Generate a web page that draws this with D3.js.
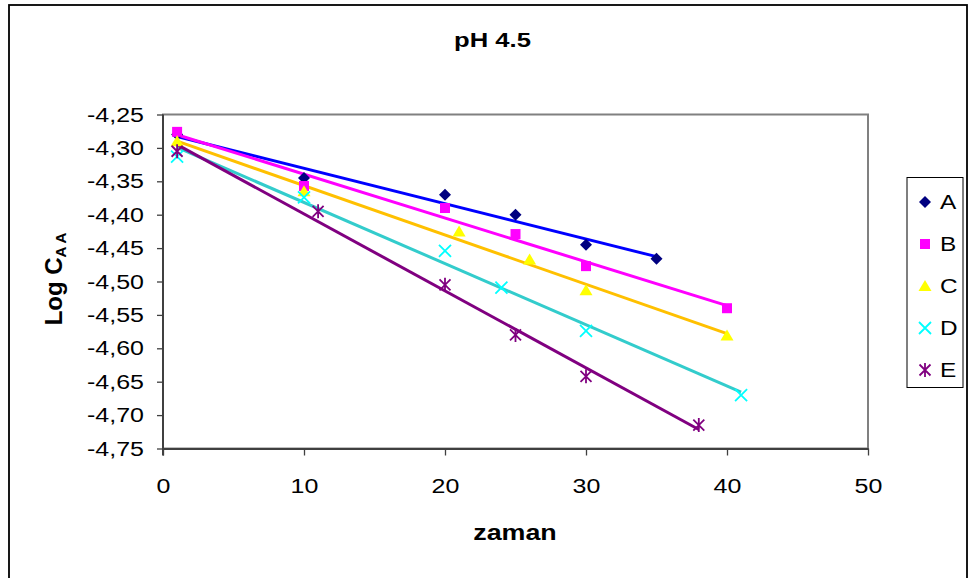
<html>
<head>
<meta charset="UTF-8">
<script src="https://d3js.org/d3.v7.min.js"></script>
<style>
  body { margin: 0; background: #fff; }
  text { font-family: "Liberation Sans", Arial, sans-serif; }
</style>
</head>
<body>
<svg id="chart" width="970" height="578"></svg>
<script>
// values
const seriesNames = ["A", "B", "C", "D", "E"];
const xA = [1, 10, 20, 25, 30, 35];
const yA = [-4.28, -4.345, -4.37, -4.40, -4.445, -4.466];
const xB = [1, 10, 20, 25, 30, 40];
const yB = [-4.276, -4.357, -4.39, -4.429, -4.477, -4.54];
const xC = [1, 10, 21, 26, 30, 40];
const yC = [-4.29, -4.365, -4.425, -4.467, -4.513, -4.581];
const xD = [1, 10, 20, 24, 30, 41];
const yD = [-4.313, -4.374, -4.454, -4.509, -4.574, -4.67];
const xE = [1, 11, 20, 25, 30, 38];
const yE = [-4.305, -4.395, -4.505, -4.58, -4.642, -4.715];
const xTicks = [0, 10, 20, 30, 40, 50];
const yTicks = [-4.25, -4.30, -4.35, -4.40, -4.45, -4.50, -4.55, -4.60, -4.65, -4.70, -4.75];

const xs = [xA, xB, xC, xD, xE];
const ys = [yA, yB, yC, yD, yE];
const lineColors = ["#0000ff", "#ff00ff", "#ffc000", "#33cccc", "#800080"];
const markColors = ["#000080", "#ff00ff", "#ffff00", "#00ffff", "#800080"];
const stretch = 1.22;   // text in the picture is a bit wide

const svg = d3.select("#chart");
const pLeft = 163, pTop = 114.5, pRight = 868, pBottom = 448.5;

const x = d3.scaleLinear().domain([0, 50]).range([pLeft, pRight]);
const y = d3.scaleLinear().domain([-4.75, -4.25]).range([pBottom, pTop]);

// outer frame
svg.append("rect").attr("x", 9).attr("y", 5).attr("width", 958).attr("height", 620)
  .attr("fill", "none").attr("stroke", "#000").attr("stroke-width", 1.8);

// plot area border (gray top/right)
svg.append("rect").attr("x", pLeft).attr("y", pTop).attr("width", pRight - pLeft).attr("height", pBottom - pTop)
  .attr("fill", "#fff").attr("stroke", "#808080").attr("stroke-width", 2);

// axes
const fmt = d => d3.format(".2f")(d).replace(".", ",").replace("\u2212", "-");
const gy = svg.append("g").attr("transform", "translate(" + pLeft + ",0)")
  .call(d3.axisLeft(y).tickValues(yTicks).tickSize(6).tickSizeOuter(0).tickFormat(fmt));
const gx = svg.append("g").attr("transform", "translate(0," + pBottom + ")")
  .call(d3.axisBottom(x).tickValues(xTicks).tickSize(7).tickSizeOuter(0));

[gy, gx].forEach(g => {
  g.select(".domain").attr("stroke", "#404040").attr("stroke-width", 2);
  g.selectAll(".tick line").attr("stroke", "#404040").attr("stroke-width", 1.3);
  g.selectAll("text").attr("font-size", 20.5).attr("fill", "#000")
    .attr("font-family", "Liberation Sans, Arial, sans-serif")
    .attr("transform", "scale(" + stretch + ",1)");
});
gy.selectAll("text").attr("x", -19 / stretch);
gy.select(".domain").attr("d", "M0," + pTop + "V" + (pBottom + 7));
gx.selectAll("text").attr("dy", null).attr("y", 45);

// stretched text helper
function label(parent, px, py, str, size, weight, anchor) {
  return parent.append("g").attr("transform", "translate(" + px + "," + py + ") scale(" + stretch + ",1)")
    .append("text").attr("font-size", size).attr("font-weight", weight)
    .attr("text-anchor", anchor).text(str);
}

label(svg, 492.5, 47, "pH 4.5", 21, "bold", "middle");
label(svg, 515, 540, "zaman", 22, "bold", "middle");

// y axis title with subscript
const yt = svg.append("text").attr("transform", "translate(62,279) rotate(-90)")
  .attr("text-anchor", "middle").attr("font-size", 24).attr("font-weight", "bold");
yt.append("tspan").text("Log C");
yt.append("tspan").attr("font-size", 15).attr("dy", 4).text("A A");

// markers
function marker(g, i) {
  const c = markColors[i];
  if (i === 0) {
    g.append("path").attr("d", "M0,-6L6,0L0,6L-6,0Z").attr("fill", c);
  } else if (i === 1) {
    g.append("rect").attr("x", -5).attr("y", -5).attr("width", 10).attr("height", 10).attr("fill", c);
  } else if (i === 2) {
    g.append("path").attr("d", "M0,-6L6.5,5L-6.5,5Z").attr("fill", c);
  } else if (i === 3) {
    g.append("path").attr("d", "M-6,-6L6,6M6,-6L-6,6").attr("stroke", c).attr("stroke-width", 1.8).attr("fill", "none");
  } else {
    g.append("path").attr("d", "M-5.5,-5.5L5.5,5.5M5.5,-5.5L-5.5,5.5M0,-7V7").attr("stroke", c).attr("stroke-width", 1.8).attr("fill", "none");
  }
}

// least-squares trend line for each series
function fit(xv, yv) {
  const mx = d3.mean(xv), my = d3.mean(yv);
  const sxy = d3.sum(xv, (v, k) => (v - mx) * (yv[k] - my));
  const sxx = d3.sum(xv, v => (v - mx) * (v - mx));
  const b = sxy / sxx;
  return v => my + b * (v - mx);
}

const plot = svg.append("g");
seriesNames.forEach((name, i) => {
  const f = fit(xs[i], ys[i]);
  const x0 = d3.min(xs[i]), x1 = d3.max(xs[i]);
  plot.append("line")
    .attr("x1", x(x0)).attr("y1", y(f(x0)))
    .attr("x2", x(x1)).attr("y2", y(f(x1)))
    .attr("stroke", lineColors[i]).attr("stroke-width", 3);
});
seriesNames.forEach((name, i) => {
  xs[i].forEach((v, k) => {
    const g = plot.append("g").attr("transform", "translate(" + x(v) + "," + y(ys[i][k]) + ")");
    marker(g, i);
  });
});

// legend
svg.append("rect").attr("x", 907).attr("y", 177.5).attr("width", 56).attr("height", 210)
  .attr("fill", "#fff").attr("stroke", "#000").attr("stroke-width", 1);
seriesNames.forEach((name, i) => {
  const cy = 202 + i * 42;
  const g = svg.append("g").attr("transform", "translate(925," + cy + ")");
  marker(g, i);
  label(svg, 940, cy + 7, name, 20, "normal", "start");
});
</script>
</body>
</html>
